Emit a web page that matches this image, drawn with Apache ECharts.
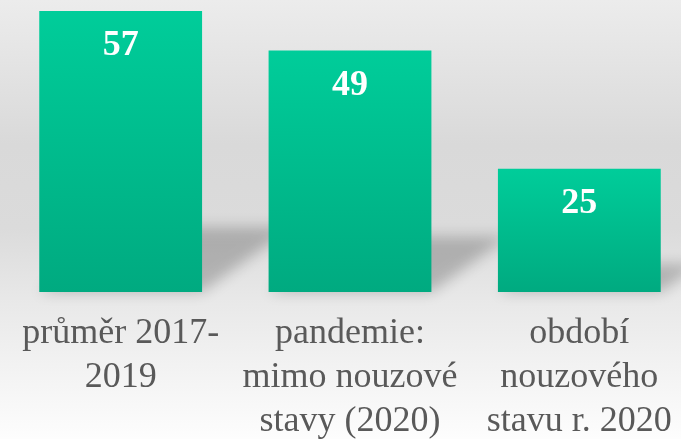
<!DOCTYPE html>
<html>
<head>
<meta charset="utf-8">
<script src="https://cdn.jsdelivr.net/npm/echarts@6/dist/echarts.min.js"></script>
<style>
  html, body { margin: 0; padding: 0; }
  #chart { width: 681px; height: 439px; }
</style>
</head>
<body>
<div id="chart"></div>
<script>
// Categories and values
const categories = [
  'průměr 2017-\n2019',
  'pandemie:\nmimo nouzové\nstavy (2020)',
  'období\nnouzového\nstavu r. 2020'
];
const values = [57, 49, 25];

const BAR_RATIO = 0.71;
const SERIF = "'Liberation Serif', serif";

const chart = echarts.init(document.getElementById('chart'));

// Slanted floor shadow cast by each bar (drawn off-canvas, only its blurred shadow lands on the chart)
function renderShadow(params, api) {
  const i = api.value(0);
  const v = api.value(1);
  const base = api.coord([i, 0]);
  const top = api.coord([i, v]);
  const half = api.size([1, 0])[0] * BAR_RATIO / 2;
  const h = base[1] - top[1];
  const hs = h * 0.23;
  const s = hs / 0.72;
  const off = 2000;
  const pts = [
    [base[0] - half, base[1]],
    [base[0] + half, base[1]],
    [base[0] + half + s, base[1] - hs],
    [base[0] - half + s, base[1] - hs]
  ].map(p => [p[0] - off, p[1]]);
  return {
    type: 'polygon',
    shape: { points: pts },
    style: {
      fill: '#000',
      shadowColor: 'rgba(0,0,0,0.22)',
      shadowBlur: 14,
      shadowOffsetX: off
    }
  };
}

chart.setOption({
  backgroundColor: {
    type: 'linear', x: 0, y: 0, x2: 0, y2: 1,
    colorStops: [
      { offset: 0, color: '#ececec' },
      { offset: 0.33, color: '#d9d9d9' },
      { offset: 0.52, color: '#dbdbdb' },
      { offset: 0.68, color: '#e8e8e8' },
      { offset: 1, color: '#fdfdfd' }
    ]
  },
  animation: false,
  grid: {
    left: 6, top: 11, width: 688, height: 281,
    containLabel: false,
    outerBoundsMode: 'none'
  },
  xAxis: {
    type: 'category',
    data: categories,
    axisLine: { show: false },
    axisTick: { show: false },
    splitLine: { show: false },
    axisLabel: {
      interval: 0,
      margin: 20,
      color: '#595959',
      fontFamily: SERIF,
      fontSize: 36,
      lineHeight: 44
    }
  },
  yAxis: {
    type: 'value',
    min: 0,
    max: 57,
    show: false
  },
  series: [
    {
      type: 'custom',
      renderItem: renderShadow,
      data: values.map((v, i) => [i, v]),
      encode: { x: 0, y: 1 },
      clip: false,
      silent: true,
      z: 1
    },
    {
      type: 'bar',
      data: values,
      barWidth: (BAR_RATIO * 100) + '%',
      z: 2,
      itemStyle: {
        color: {
          type: 'linear', x: 0, y: 0, x2: 0, y2: 1,
          colorStops: [
            { offset: 0, color: '#00cd9a' },
            { offset: 1, color: '#00aa80' }
          ]
        }
      },
      label: {
        show: true,
        position: 'insideTop',
        distance: 17,
        color: '#ffffff',
        fontFamily: SERIF,
        fontWeight: 'bold',
        fontSize: 36
      }
    }
  ]
});
</script>
</body>
</html>
